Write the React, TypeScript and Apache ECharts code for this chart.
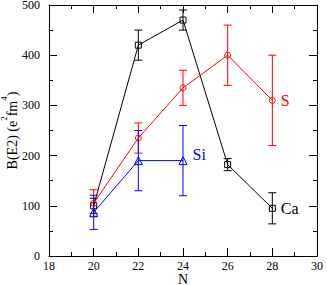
import React, { useEffect, useRef } from "react";
import * as echarts from "echarts";

const N = [20, 22, 24, 26, 28];
const caValues = [100, 420, 470, 182, 95];
const caErrors = [15, 30, 20, 12, 31];
const sValues = [105, 235, 335, 400, 310];
const sErrors = [27, 30, 35, 60, 90];
const siN = [20, 22, 24];
const siValues = [87, 190, 190];
const siErrors = [34, 60, 70];
const xTicks = { min: 18, max: 30, interval: 2 };
const yTicks = { min: 0, max: 500, interval: 100 };

const FONT = "'Liberation Serif', 'Times New Roman', serif";

function lineData(xs: number[], ys: number[], labelIdx: number, text: string, color: string, offset: number[]) {
  return xs.map((x, i) => {
    if (i === labelIdx) {
      return {
        value: [x, ys[i]],
        label: {
          show: true,
          formatter: text,
          position: "right",
          distance: 5,
          offset,
          color,
          fontFamily: FONT,
          fontSize: 16,
        },
      };
    }
    return [x, ys[i]];
  });
}

function errData(xs: number[], ys: number[], es: number[]) {
  return xs.map((x, i) => [x, ys[i] - es[i], ys[i] + es[i]]);
}

function errSeries(xs: number[], ys: number[], es: number[], color: string) {
  return {
    type: "custom",
    xAxisIndex: 0,
    yAxisIndex: 0,
    data: errData(xs, ys, es),
    z: 1,
    renderItem: (params: any, api: any) => {
      const x = api.value(0);
      const lo = api.value(1);
      const hi = api.value(2);
      const p1 = api.coord([x, hi]);
      const p2 = api.coord([x, lo]);
      const w = 4;
      const st = { stroke: color, lineWidth: 1 };
      return {
        type: "group",
        children: [
          { type: "line", shape: { x1: p1[0], y1: p1[1], x2: p2[0], y2: p2[1] }, style: st },
          { type: "line", shape: { x1: p1[0] - w, y1: p1[1], x2: p1[0] + w, y2: p1[1] }, style: st },
          { type: "line", shape: { x1: p2[0] - w, y1: p2[1], x2: p2[0] + w, y2: p2[1] }, style: st },
        ],
      };
    },
  };
}

function lineSeries(data: any[], color: string, symbol: string, size: number) {
  return {
    type: "line",
    xAxisIndex: 0,
    yAxisIndex: 0,
    data,
    symbol,
    symbolSize: size,
    showAllSymbol: true,
    z: 2,
    lineStyle: { color, width: 1 },
    itemStyle: { color: "rgba(0,0,0,0)", borderColor: color, borderWidth: 1 },
    emphasis: { disabled: true },
  };
}

export default function App() {
  const ref = useRef<HTMLDivElement>(null);
  useEffect(() => {
    if (!ref.current) return;
    const chart = echarts.init(ref.current, undefined, { renderer: "svg" });
    const axisCommon = {
      axisLine: { show: true, onZero: false, lineStyle: { color: "#000", width: 1 } },
      axisTick: { show: true, inside: true, length: 8, lineStyle: { color: "#000" } },
      minorTick: { show: true, splitNumber: 2, length: 4, lineStyle: { color: "#000" } },
      splitLine: { show: false },
    };
    chart.setOption({
      animation: false,
      backgroundColor: "#fff",
      textStyle: { fontFamily: FONT },
      grid: { left: 49, right: 10, top: 5, bottom: 29, containLabel: false, outerBoundsMode: "none" },
      xAxis: [
        {
          type: "value",
          position: "bottom",
          ...xTicks,
          ...axisCommon,
          axisLabel: { color: "#000", fontFamily: FONT, fontSize: 12, margin: 4 },
          name: "N",
          nameLocation: "middle",
          nameGap: 16,
          nameMoveOverlap: false,
          nameTextStyle: { color: "#000", fontFamily: FONT, fontSize: 14 },
        },
        {
          type: "value",
          position: "top",
          ...xTicks,
          ...axisCommon,
          axisLabel: { show: false },
        },
      ],
      yAxis: [
        {
          type: "value",
          position: "left",
          ...yTicks,
          ...axisCommon,
          axisLabel: { color: "#000", fontFamily: FONT, fontSize: 12, margin: 9 },
          name: "{n|B(E2) (e}{sup|2}{n|fm}{sup|4}{n|)}",
          nameLocation: "middle",
          nameGap: 30,
          nameMoveOverlap: false,
          nameRotate: 90,
          nameTextStyle: {
            color: "#000",
            fontFamily: FONT,
            fontSize: 14,
            rich: {
              n: { fontFamily: FONT, fontSize: 14, verticalAlign: "bottom", lineHeight: 20, color: "#000" },
              sup: { fontFamily: FONT, fontSize: 9, verticalAlign: "top", lineHeight: 20, padding: [0, 0, 6, 0], color: "#000" },
            },
          },
        },
        {
          type: "value",
          position: "right",
          ...yTicks,
          ...axisCommon,
          axisLabel: { show: false },
        },
      ],
      series: [
        errSeries(N, caValues, caErrors, "#000000"),
        errSeries(N, sValues, sErrors, "#ff0000"),
        errSeries(siN, siValues, siErrors, "#0000ff"),
        lineSeries(lineData(N, caValues, 4, "Ca", "#000000", [0, 0]), "#000000", "rect", 6),
        lineSeries(lineData(N, sValues, 4, "S", "#ff0000", [0, 0]), "#ff0000", "circle", 6),
        lineSeries(lineData(siN, siValues, 2, "Si", "#0000ff", [0, -6]), "#0000ff", "triangle", 8),
      ],
    });
    return () => chart.dispose();
  }, []);
  return <div ref={ref} style={{ position: "fixed", left: 0, top: 0, width: 327, height: 285 }} />;
}
